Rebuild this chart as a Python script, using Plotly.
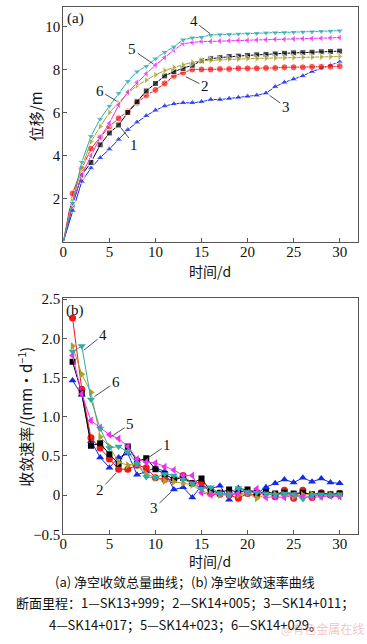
import plotly.graph_objects as go

# ---------------- data ----------------
days_a = list(range(0, 31))
days_b = list(range(1, 31))
names = ["1", "2", "3", "4", "5", "6"]

disp_1 = [0, 1.7, 3.1, 3.68, 4.5, 5.05, 5.42, 6.0, 6.5, 7.0, 7.35, 7.7, 7.9, 8.05, 8.2, 8.4, 8.5, 8.55, 8.6, 8.62, 8.65, 8.68, 8.7, 8.72, 8.75, 8.77, 8.78, 8.8, 8.82, 8.83, 8.85]
disp_2 = [0, 2.24, 3.4, 4.32, 4.85, 5.35, 5.73, 6.05, 6.45, 6.8, 7.05, 7.35, 7.7, 7.85, 8.0, 8.0, 8.0, 8.02, 8.02, 8.05, 8.05, 8.05, 8.07, 8.07, 8.1, 8.1, 8.1, 8.12, 8.12, 8.13, 8.15]
disp_3 = [0, 1.45, 2.8, 3.42, 3.9, 4.3, 4.75, 5.2, 5.55, 5.85, 6.1, 6.3, 6.4, 6.45, 6.45, 6.5, 6.6, 6.6, 6.65, 6.7, 6.75, 6.8, 6.9, 7.2, 7.4, 7.55, 7.7, 7.9, 8.05, 8.2, 8.35]
disp_4 = [0, 1.8, 3.7, 4.9, 5.7, 6.3, 6.9, 7.45, 7.9, 8.15, 8.5, 8.8, 9.05, 9.38, 9.47, 9.5, 9.6, 9.62, 9.63, 9.65, 9.66, 9.68, 9.7, 9.71, 9.72, 9.73, 9.74, 9.75, 9.77, 9.78, 9.8]
disp_5 = [0, 1.75, 3.1, 4.0, 4.85, 5.5, 6.35, 6.95, 7.4, 7.8, 8.2, 8.55, 8.9, 9.2, 9.25, 9.3, 9.3, 9.32, 9.33, 9.35, 9.35, 9.37, 9.38, 9.4, 9.4, 9.42, 9.43, 9.44, 9.45, 9.46, 9.48]
disp_6 = [0, 1.85, 3.45, 4.65, 5.35, 6.0, 6.45, 6.9, 7.25, 7.5, 7.75, 7.95, 8.1, 8.22, 8.33, 8.4, 8.42, 8.45, 8.47, 8.48, 8.5, 8.5, 8.52, 8.53, 8.54, 8.55, 8.56, 8.57, 8.58, 8.59, 8.6]

rate_1 = [1.7, 1.3, 0.63, 0.66, 0.52, 0.4, 0.62, 0.43, 0.47, 0.33, 0.27, 0.2, 0.22, 0.15, 0.21, 0.05, 0.03, 0.07, 0.03, 0.07, 0.03, 0.04, 0.02, 0.03, 0.02, 0.03, 0.01, 0.02, 0.01, 0.02]
rate_2 = [2.26, 1.35, 0.73, 0.6, 0.46, 0.33, 0.33, 0.38, 0.35, 0.22, 0.2, 0.2, 0.25, 0.15, 0.16, 0.02, 0.01, 0.0, -0.04, 0.02, 0.0, 0.03, -0.02, 0.06, -0.04, 0.06, -0.03, 0.03, 0.0, 0.02]
rate_3 = [1.46, 1.28, 0.69, 0.48, 0.35, 0.48, 0.53, 0.26, 0.3, 0.35, 0.3, 0.07, 0.1, -0.03, 0.12, 0.08, 0.12, -0.06, 0.09, 0.06, 0.02, 0.1, 0.15, 0.2, 0.16, 0.22, 0.17, 0.21, 0.16, 0.15]
rate_4 = [1.83, 1.9, 1.22, 0.85, 0.6, 0.62, 0.55, 0.4, 0.23, 0.22, 0.27, 0.25, 0.2, 0.15, 0.08, 0.1, 0.02, 0.0, 0.09, 0.04, 0.03, 0.02, 0.0, 0.02, 0.01, -0.05, 0.0, 0.01, 0.0, 0.01]
rate_5 = [1.78, 1.29, 0.95, 0.86, 0.77, 0.72, 0.62, 0.46, 0.42, 0.41, 0.36, 0.32, 0.25, 0.25, 0.03, 0.0, 0.02, 0.0, 0.02, 0.03, 0.08, -0.03, -0.02, -0.03, 0.0, -0.02, -0.03, -0.02, -0.01, -0.02]
rate_6 = [1.9, 1.54, 1.31, 0.74, 0.62, 0.42, 0.38, 0.4, 0.27, 0.22, 0.18, 0.17, 0.15, 0.13, 0.05, 0.02, 0.0, 0.01, 0.0, 0.02, -0.04, 0.0, 0.01, 0.0, -0.02, 0.0, 0.01, -0.02, 0.0, -0.01]

x_ticks = [0, 5, 10, 15, 20, 25, 30]
ya_ticks = [2, 4, 6, 8, 10]
yb_ticks = [-0.5, 0, 0.5, 1.0, 1.5, 2.0, 2.5]
yb_labels = ["\u22120.5", "0", "0.5", "1.0", "1.5", "2.0", "2.5"]

caption_1 = "(a) 净空收敛总量曲线；(b) 净空收敛速率曲线"
caption_2 = "断面里程：1—SK13+999；2—SK14+005；3—SK14+011；"
caption_3 = "4—SK14+017；5—SK14+023；6—SK14+029。"
watermark = "@有色金属在线"

# ---------------- style ----------------
W, H = 367, 644
colors = ["#000000", "#f01818", "#1428e6", "#2eaaaa", "#ec30ec", "#aaa02a"]
symbols = ["square", "circle", "triangle-up", "triangle-down", "triangle-left", "triangle-right"]
sizes = [6, 7, 7, 7, 7, 7]
SERIF = "Liberation Serif, Times New Roman, Noto Sans CJK SC, serif"
CJK = "Noto Sans CJK SC, Liberation Serif, serif"

def px(x):
    return x / W

def py(y):
    return 1 - y / H

fig = go.Figure()
disp = [disp_1, disp_2, disp_3, disp_4, disp_5, disp_6]
rate = [rate_1, rate_2, rate_3, rate_4, rate_5, rate_6]
order = [2, 1, 0, 5, 4, 3]
for i in order:
    fig.add_trace(go.Scatter(
        x=days_a, y=disp[i], mode="lines+markers", name=names[i],
        line=dict(color=colors[i], width=1),
        marker=dict(symbol=symbols[i], color=colors[i], size=[1] + [sizes[i]] * 30),
        xaxis="x", yaxis="y", showlegend=False))
for i in order:
    fig.add_trace(go.Scatter(
        x=days_b, y=rate[i], mode="lines+markers", name=names[i],
        line=dict(color=colors[i], width=1),
        marker=dict(symbol=symbols[i], color=colors[i], size=sizes[i]),
        xaxis="x2", yaxis="y2", showlegend=False))

axis_common = dict(showgrid=False, zeroline=False, showline=True, linecolor="#555555",
                   linewidth=1, mirror=True, ticks="inside", ticklen=4, tickcolor="#555555",
                   tickfont=dict(family=SERIF, size=15, color="#111111"))

fig.update_layout(
    width=W, height=H, margin=dict(l=0, r=0, t=0, b=0),
    paper_bgcolor="white", plot_bgcolor="white",
    xaxis=dict(domain=[px(60), px(358)], range=[0, 32], tickvals=x_ticks, anchor="y",
               ticklabelstandoff=-4, **axis_common),
    yaxis=dict(domain=[py(241), py(1)], range=[0, 10.9], tickvals=ya_ticks, anchor="x",
               ticklabelstandoff=-1, **axis_common),
    xaxis2=dict(domain=[px(60), px(358)], range=[0, 32], tickvals=x_ticks, anchor="y2",
                ticklabelstandoff=-4, **axis_common),
    yaxis2=dict(domain=[py(540), py(298)], range=[-0.5, 2.52], tickvals=yb_ticks, ticktext=yb_labels,
                anchor="x2", ticklabelstandoff=-1, **axis_common),
)

ann = []
def text_ann(x, y, t, size=15, family=SERIF, angle=0, color="#111111", xanchor="center"):
    ann.append(dict(x=px(x), y=py(y), xref="paper", yref="paper", text=t, showarrow=False,
                    textangle=angle, xanchor=xanchor, yanchor="middle",
                    font=dict(family=family, size=size, color=color)))

# panel labels and axis titles
text_ann(72, 13, "(a)")
text_ann(72, 311, "(b)")
text_ann(32, 113, "位移/m", size=15, family=CJK, angle=-90)
text_ann(21, 420, "收敛速率/(mm·d<sup>−1</sup>)", size=15, family=CJK, angle=-90)
text_ann(208, 271, "时间/d", size=14, family=CJK)
text_ann(208, 567, "时间/d", size=14, family=CJK)
text_ann(183, 588, caption_1, size=13, family=CJK)
text_ann(183, 610, caption_2, size=13, family=CJK)
text_ann(183, 632, caption_3, size=13, family=CJK)
text_ann(366, 636, watermark, size=12, family=CJK, color="rgba(220,80,80,0.35)", xanchor="right")

def arrow_ann(xref, yref, x, y, t, ax, ay):
    ann.append(dict(x=x, y=y, xref=xref, yref=yref, text=t, showarrow=True, arrowhead=0,
                    arrowwidth=0.8, arrowcolor="#222222", ax=ax, ay=ay, standoff=1,
                    font=dict(family=SERIF, size=15, color="#111111")))

# panel (a) curve labels
arrow_ann("x", "y", 16.0, 9.64, "4", -17, -13)
arrow_ann("x", "y", 9.86, 8.23, "5", -22, -15)
arrow_ann("x", "y", 5.9, 6.5, "6", -18, -11)
arrow_ann("x", "y", 13.2, 7.68, "2", 20, 10)
arrow_ann("x", "y", 22.3, 6.82, "3", 17, 12)
arrow_ann("x", "y", 6.2, 5.32, "1", 14, 18)
# panel (b) curve labels
arrow_ann("x2", "y2", 2.14, 1.84, "4", 20, -16)
arrow_ann("x2", "y2", 3.3, 1.25, "6", 22, -15)
arrow_ann("x2", "y2", 5.1, 0.74, "5", 20, -13)
arrow_ann("x2", "y2", 9.2, 0.475, "1", 19, -13)
arrow_ann("x2", "y2", 5.8, 0.29, "2", -17, 18)
arrow_ann("x2", "y2", 11.8, 0.05, "3", -18, 17)

fig.update_layout(annotations=ann)
fig.write_html("out.html", config={"displayModeBar": False},
               post_script="document.body.style.margin='0';document.body.style.overflow='hidden';")
